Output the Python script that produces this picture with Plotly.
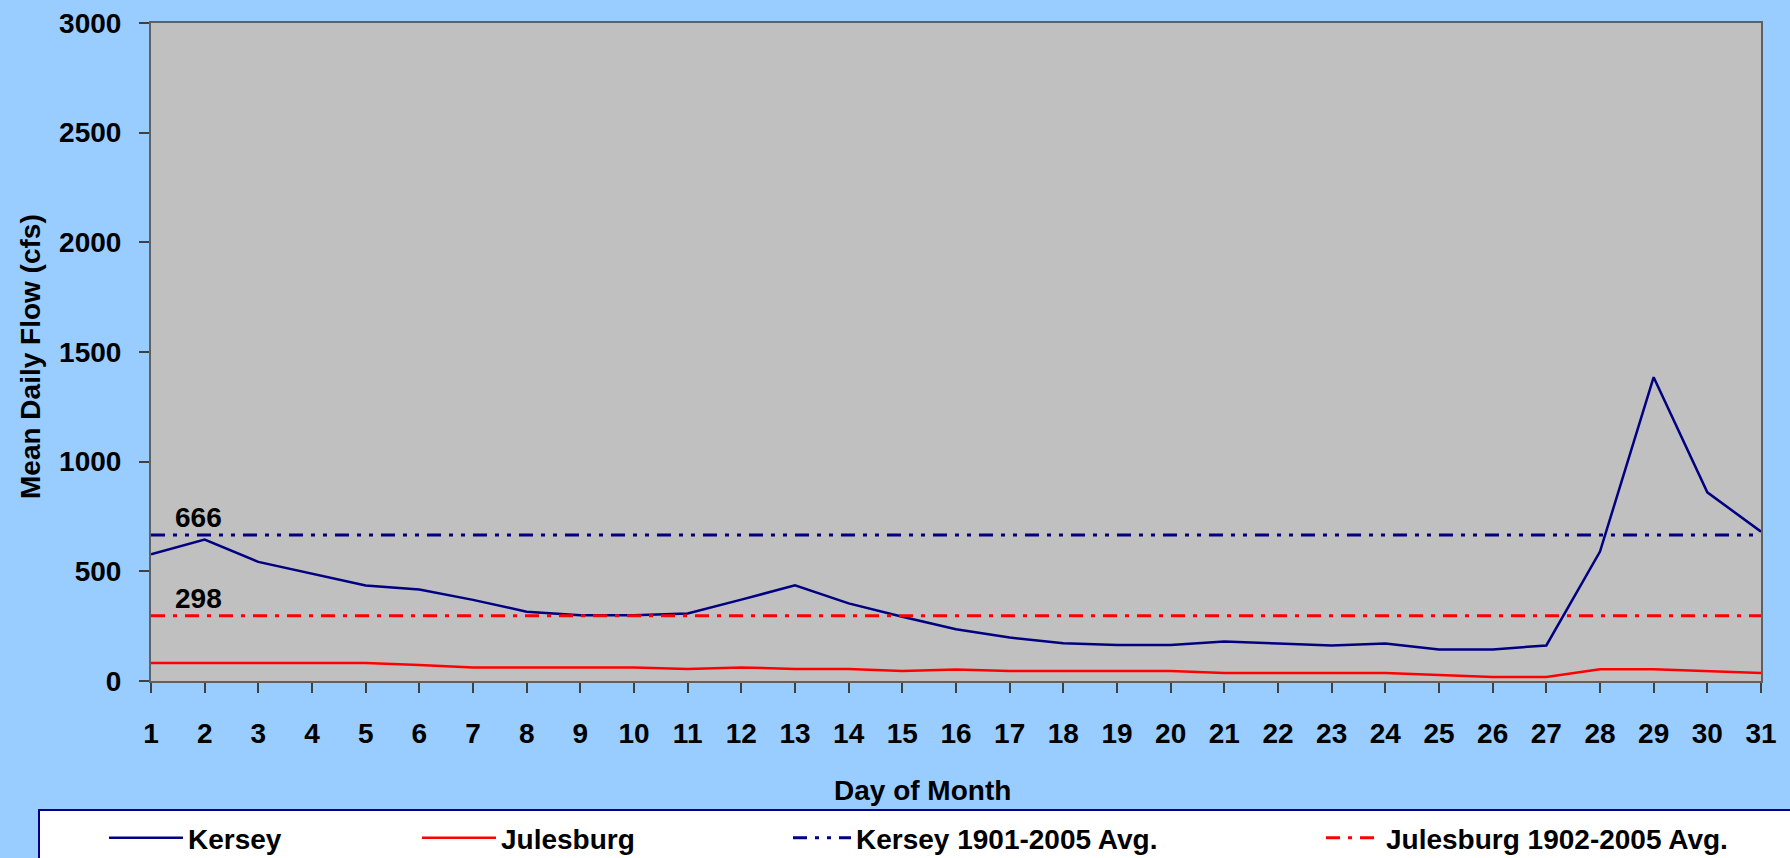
import plotly.graph_objects as go

# data
days = list(range(1, 32))
kersey = [578, 645, 543, 490, 435, 417, 370, 316, 300, 300, 308, 371, 436, 354, 293, 236,
          198, 172, 164, 164, 180, 171, 162, 171, 144, 144, 162, 590, 1385, 860, 681]
julesburg = [82, 82, 82, 82, 82, 73, 62, 62, 62, 62, 55, 62, 55, 55, 46, 53,
             46, 46, 46, 46, 36, 36, 36, 36, 27, 18, 18, 54, 54, 45, 36]
kersey_avg = 666
julesburg_avg = 298
series_names = ['Kersey', 'Julesburg', 'Kersey 1901-2005 Avg.', 'Julesburg 1902-2005 Avg.']
y_ticks = [0, 500, 1000, 1500, 2000, 2500, 3000]

NAVY = '#000080'
RED = '#FF0000'
FONT = 'Liberation Sans, Arial, sans-serif'

W, H = 1790, 858
L, R, T, B = 151, 29, 23, 177
pw, ph = W - L - R, H - T - B

def px(x):  # pixel -> paper x
    return (x - L) / pw

def py(y):  # pixel -> paper y
    return (H - B - y) / ph

def bold(size):
    return dict(family=FONT, size=size, color='black', weight='bold')

fig = go.Figure()

fig.add_trace(go.Scatter(x=days, y=kersey, mode='lines', name=series_names[0],
                         line=dict(color=NAVY, width=2.5), legend='legend'))
fig.add_trace(go.Scatter(x=days, y=julesburg, mode='lines', name=series_names[1],
                         line=dict(color=RED, width=2.5), legend='legend2'))
fig.add_trace(go.Scatter(x=[days[0], days[-1]], y=[kersey_avg, kersey_avg], mode='lines',
                         name=series_names[2], legend='legend3',
                         line=dict(color=NAVY, width=3, dash='14px,8px,4px,8px,4px,8px')))
fig.add_trace(go.Scatter(x=[days[0], days[-1]], y=[julesburg_avg, julesburg_avg], mode='lines',
                         name=series_names[3], legend='legend4',
                         line=dict(color=RED, width=3, dash='14px,8px,4px,8px')))

# value labels over the average lines
for v in [kersey_avg, julesburg_avg]:
    fig.add_annotation(x=1.88, y=v, text=str(v), showarrow=False,
                       xref='x', yref='y', yanchor='bottom', yshift=0, font=bold(28))

# axis titles
fig.add_annotation(x=px(922), y=py(790), xref='paper', yref='paper', text='Day of Month',
                   showarrow=False, xanchor='center', yanchor='middle', font=bold(28))
fig.add_annotation(x=px(30), y=py(357), xref='paper', yref='paper',
                   text='Mean Daily Flow (cfs)', textangle=-90,
                   showarrow=False, xanchor='center', yanchor='middle', font=bold(28))

# legend box
fig.add_shape(type='rect', xref='paper', yref='paper',
              x0=px(39), x1=px(1810), y0=py(880), y1=py(810),
              line=dict(color=NAVY, width=2), fillcolor='white', layer='below')

leg_common = dict(orientation='h', bgcolor='rgba(0,0,0,0)', borderwidth=0,
                  font=bold(28), xanchor='left', yanchor='middle', xref='paper', yref='paper')
fig.update_layout(
    legend=dict(x=px(104), y=py(838), itemwidth=74, **leg_common),
    legend2=dict(x=px(417), y=py(838), itemwidth=74, **leg_common),
    legend3=dict(x=px(788), y=py(838), itemwidth=58, **leg_common),
    legend4=dict(x=px(1321), y=py(838), itemwidth=55, **leg_common),
)

fig.update_xaxes(range=[1, 31], tickmode='array', tickvals=days,
                 ticks='outside', ticklen=10, tickwidth=1.5, tickcolor='#404040',
                 showline=True, linecolor='#606060', linewidth=2, mirror=True,
                 showgrid=False, zeroline=False, ticklabelstandoff=16, automargin=False,
                 tickfont=bold(28))
fig.update_yaxes(range=[0, 3000], tickmode='array', tickvals=y_ticks,
                 ticks='outside', ticklen=10, tickwidth=1.5, tickcolor='#404040',
                 showline=True, linecolor='#606060', linewidth=2, mirror=True,
                 showgrid=False, zeroline=False, ticklabelstandoff=12, automargin=False,
                 tickfont=bold(28))

fig.update_layout(width=W, height=H, autosize=False,
                  margin=dict(l=L, r=R, t=T, b=B, autoexpand=False),
                  paper_bgcolor='#99CCFF', plot_bgcolor='#C0C0C0',
                  showlegend=True)

fig.write_html("out.html", config={'displayModeBar': False},
               post_script="document.body.style.margin='0';")
